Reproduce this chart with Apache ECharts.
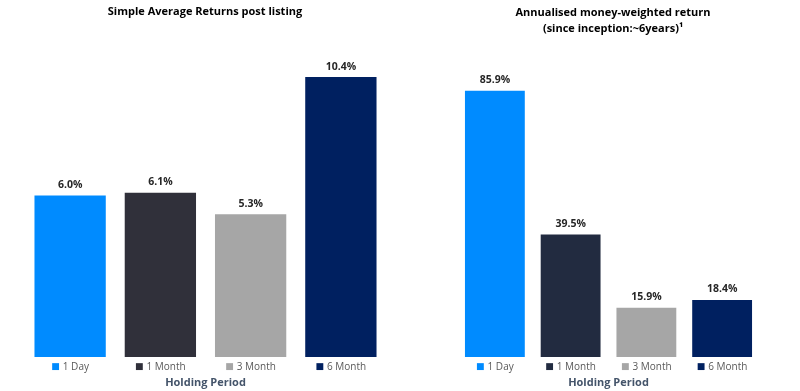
<!DOCTYPE html>
<html><head><meta charset="utf-8">
<script src="https://cdn.jsdelivr.net/npm/echarts@6/dist/echarts.min.js"></script>
<style>html,body{margin:0;padding:0;background:#fff}#c{width:800px;height:391px}</style>
</head><body><div id="c"></div>
<script>
const categories = ['1 Day', '1 Month', '3 Month', '6 Month'];
const simpleReturns = [6.0, 6.1, 5.3, 10.4];
const moneyWeighted = [85.9, 39.5, 15.9, 18.4];
const leftColors = ['#008BFF', '#30303A', '#A6A6A6', '#002060'];
const rightColors = ['#008BFF', '#222B40', '#A6A6A6', '#002060'];
const leftTitle = 'Simple Average Returns post listing';
const rightTitle = 'Annualised money-weighted return\n(since inception:~6years)¹';
const axisName = 'Holding Period';

const FONT = 'Open Sans';
function rich(colors){
  const r = {t:{fontFamily:FONT,fontSize:10,color:'#595959',padding:[0,0,0,3]}};
  colors.forEach((c,i)=>{ r['s'+i] = {fontSize:9,color:c,fontFamily:'DejaVu Sans'}; });
  return r;
}
function xAxis(gi, colors){
  return {
    type:'category', gridIndex:gi, data:categories,
    axisLine:{show:false}, axisTick:{show:false},
    axisLabel:{interval:0, margin:5, formatter:(v,i)=>'{s'+i+'|■}{t|'+v+'}', rich:rich(colors)},
    name:axisName, nameLocation:'middle', nameGap:19,
    nameTextStyle:{fontFamily:FONT,fontWeight:'bold',fontSize:11,color:'#44546A'}
  };
}
function series(gi, vals, colors){
  return {
    type:'bar', xAxisIndex:gi, yAxisIndex:gi, barWidth:'79%',
    data: vals.map((v,i)=>({value:v,itemStyle:{color:colors[i]}})),
    label:{show:true,position:'top',distance:5,formatter:p=>p.value.toFixed(1)+'%',
      fontFamily:FONT,fontWeight:'bold',fontSize:10.5,color:'#262626'}
  };
}
const chart = echarts.init(document.getElementById('c'));
chart.setOption({
  animation:false,
  title:[
    {text:leftTitle,left:200,top:1,textAlign:'center',textStyle:{fontFamily:FONT,fontWeight:'bold',fontSize:11,color:'#000'}},
    {text:rightTitle,left:608,top:0,textAlign:'center',textStyle:{fontFamily:FONT,fontWeight:'bold',fontSize:11,lineHeight:16,color:'#000'}}
  ],
  grid:[
    {left:25,width:361,top:34,height:323,outerBoundsMode:'none'},
    {left:457,width:303,top:47,height:310,outerBoundsMode:'none'}
  ],
  xAxis:[xAxis(0,leftColors), xAxis(1,rightColors)],
  yAxis:[
    {type:'value',gridIndex:0,min:0,max:12,show:false},
    {type:'value',gridIndex:1,min:0,max:100,show:false}
  ],
  series:[series(0,simpleReturns,leftColors), series(1,moneyWeighted,rightColors)]
});
</script></body></html>
